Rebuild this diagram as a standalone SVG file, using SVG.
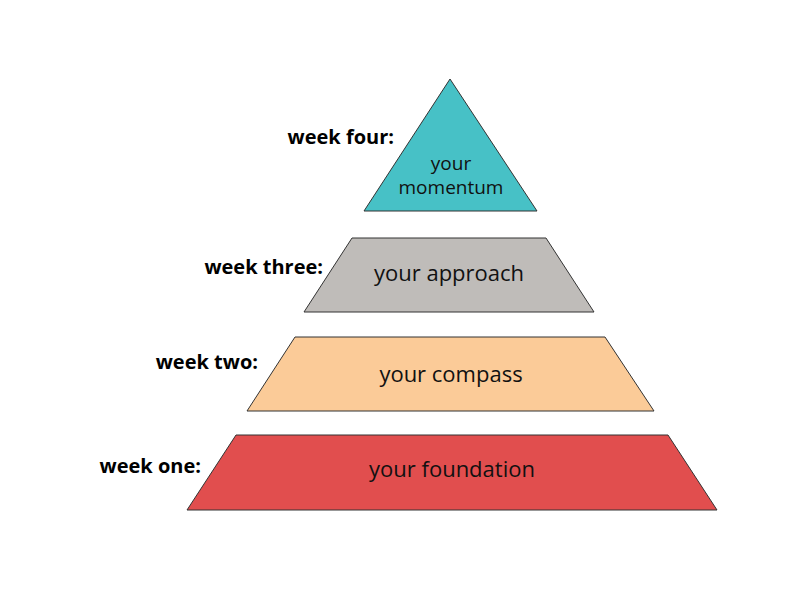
<svg xmlns="http://www.w3.org/2000/svg" width="792" height="612" viewBox="0 0 792 612">
<style>
.s{stroke:#333;stroke-width:1}
.t{font-family:"Open Sans",sans-serif;fill:#111;text-anchor:middle}
.l{font-family:"Open Sans",sans-serif;font-weight:bold;font-size:20px;fill:#000;text-anchor:end}
</style>
<rect width="792" height="612" fill="#fff"/>
<g id="four"><polygon class="s" fill="#47C1C6" points="450,79 537,211 364,211"/>
<text class="t" x="451" y="170" font-size="19">your</text><text class="t" x="451" y="194" font-size="19">momentum</text>
<text class="l" x="394" y="144">week four:</text></g>
<g id="three"><polygon class="s" fill="#BFBCB9" points="352,238 546,238 594,312 304,312"/>
<text class="t" x="449" y="281" font-size="22">your approach</text>
<text class="l" x="323" y="274">week three:</text></g>
<g id="two"><polygon class="s" fill="#FBCB98" points="295,337 605,337 654,411 247,411"/>
<text class="t" x="451" y="382" font-size="22">your compass</text>
<text class="l" x="258" y="369">week two:</text></g>
<g id="one"><polygon class="s" fill="#E14E4E" points="236,435 668,435 717,510 187,510"/>
<text class="t" x="452" y="477" font-size="22">your foundation</text>
<text class="l" x="201" y="473">week one:</text></g>
<g id="connectors"/>
</svg>
